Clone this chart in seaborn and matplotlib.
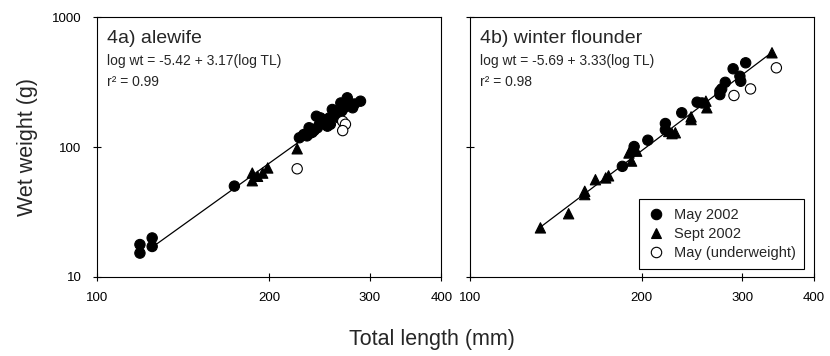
import numpy as np
import pandas as pd
import matplotlib
matplotlib.use('Agg')
import matplotlib.pyplot as plt
from matplotlib.lines import Line2D
import seaborn as sns

# 4a) alewife  (total length mm, wet weight g)
ale_may_tl = [119, 119, 125, 125, 174,
              226, 230, 233, 235, 236, 238, 240, 242, 243, 245, 246, 248, 250,
              253, 255, 256, 258, 260, 262, 264, 265, 267, 268, 270, 272, 274,
              276, 280, 282, 289]
ale_may_wt = [17.7, 15.2, 19.9, 17.1, 50,
              118, 125, 122, 141, 128, 130, 135, 173, 141, 150, 168, 155, 160,
              145, 168, 150, 195, 175, 180, 185, 168, 219, 190, 200, 205, 240,
              210, 201, 215, 226]
ale_sept_tl = [187, 187, 191, 195, 199, 224]
ale_sept_wt = [63, 55, 59.5, 63, 69, 97]
ale_under_tl = [224, 269, 272, 269]
ale_under_wt = [68, 158, 150, 134]
ale_coef = (-5.42, 3.17)
ale_range = [126, 290]

# 4b) winter flounder
wf_may_tl = [185, 194, 205, 220, 220, 235, 250, 255, 274, 274, 276, 280, 289,
             297, 298, 304]
wf_may_wt = [71, 101, 113, 152, 136, 184, 222, 219, 254, 270, 281, 316, 402,
             352, 322, 447]
wf_sept_tl = [133, 149, 159, 159, 166, 173, 175, 190, 192, 192, 196, 223, 229,
              226, 244, 244, 259, 260, 338]
wf_sept_wt = [23.8, 30.6, 45.6, 43, 56, 57.8, 60, 90, 78, 96, 93, 132, 129,
              127, 163, 171, 226, 201, 534]
wf_under_tl = [290, 310, 344]
wf_under_wt = [250, 281, 409]
wf_coef = (-5.69, 3.33)
wf_range = [133, 338]

groups = ['May 2002', 'Sept 2002', 'May (underweight)']
palette = {'May 2002': 'black', 'Sept 2002': 'black', 'May (underweight)': 'white'}
markers = {'May 2002': 'o', 'Sept 2002': '^', 'May (underweight)': 'o'}


def make_df(may_tl, may_wt, sept_tl, sept_wt, und_tl, und_wt):
    parts = []
    for g, tl, wt in zip(groups, [may_tl, sept_tl, und_tl], [may_wt, sept_wt, und_wt]):
        parts.append(pd.DataFrame({'TL': tl, 'wt': wt, 'group': g}))
    return pd.concat(parts, ignore_index=True)


ale = make_df(ale_may_tl, ale_may_wt, ale_sept_tl, ale_sept_wt, ale_under_tl, ale_under_wt)
wf = make_df(wf_may_tl, wf_may_wt, wf_sept_tl, wf_sept_wt, wf_under_tl, wf_under_wt)

sns.set_style('ticks')
plt.rcParams['font.family'] = ['Liberation Sans', 'DejaVu Sans']

fig = plt.figure(figsize=(8.3, 3.56), dpi=100)
ax1 = fig.add_axes([0.1165, 0.2228, 0.4152, 0.7281])
ax2 = fig.add_axes([0.5658, 0.2228, 0.4147, 0.7281])

panels = [
    (ax1, ale, ale_coef, ale_range, '4a) alewife', 'log wt = -5.42 + 3.17(log TL)', 'r\u00b2 = 0.99'),
    (ax2, wf, wf_coef, wf_range, '4b) winter flounder', 'log wt = -5.69 + 3.33(log TL)', 'r\u00b2 = 0.98'),
]

for ax, df, coef, rng, title, eq, r2 in panels:
    tl = np.array(rng, dtype=float)
    ax.plot(tl, 10 ** (coef[0] + coef[1] * np.log10(tl)), color='black', lw=0.9, zorder=1)
    sns.scatterplot(data=df, x='TL', y='wt', hue='group', style='group',
                    palette=palette, markers=markers, s=55, edgecolor='black',
                    linewidth=0.8, legend=False, ax=ax, zorder=2)
    ax.set_xscale('log')
    ax.set_yscale('log')
    ax.set_xlim(100, 400)
    ax.set_ylim(10, 1000)
    ax.minorticks_off()
    ax.set_xticks([100, 200, 300, 400])
    ax.set_xticklabels(['100', '200', '300', '400'])
    ax.set_yticks([10, 100, 1000])
    ax.set_xlabel('')
    ax.set_ylabel('')
    for sp in ax.spines.values():
        sp.set_visible(True)
        sp.set_linewidth(0.8)
        sp.set_color('black')
    ax.tick_params(direction='inout', length=6, width=0.8, labelsize=9.5,
                   colors='black')
    ax.tick_params(axis='x', pad=8)
    ax.tick_params(axis='y', pad=8)
    ax.text(0.03, 0.903, title, transform=ax.transAxes, fontsize=14, va='baseline')
    ax.text(0.03, 0.815, eq, transform=ax.transAxes, fontsize=10, va='baseline')
    ax.text(0.03, 0.737, r2, transform=ax.transAxes, fontsize=10, va='baseline')

ax1.set_yticklabels(['10', '100', '1000'])
ax2.set_yticklabels([])

handles = [Line2D([], [], ls='none', marker=markers[g], markersize=7.5,
                  markerfacecolor=palette[g], markeredgecolor='black',
                  markeredgewidth=0.8) for g in groups]
leg = ax2.legend(handles, groups, loc='lower right', bbox_to_anchor=(0.972, 0.03),
                 fontsize=10.5, frameon=True, fancybox=False, framealpha=1,
                 edgecolor='black', handletextpad=0.6, handlelength=1.2,
                 borderpad=0.6, labelspacing=0.35, borderaxespad=0)
leg.get_frame().set_linewidth(0.8)

fig.text(28 / 830, 1 - 147 / 356, 'Wet weight (g)', rotation=90, fontsize=15.5,
         ha='center', va='center')
fig.text(432 / 830, 1 - 339 / 356, 'Total length (mm)', fontsize=15.5,
         ha='center', va='center')

fig.savefig('out.png', dpi=100)
